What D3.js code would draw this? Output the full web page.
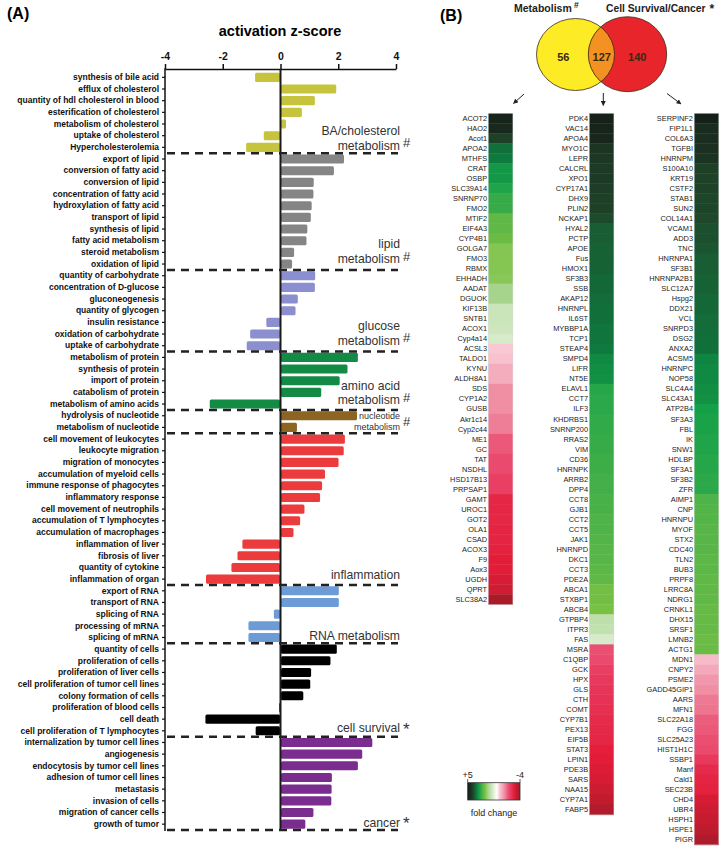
<!DOCTYPE html>
<html><head><meta charset="utf-8">
<script src="https://cdn.jsdelivr.net/npm/d3@7"></script>
<style>body{margin:0;background:#fff} svg{display:block;font-family:"Liberation Sans",Arial,sans-serif}</style>
</head><body>
<svg id="c" width="720" height="850"></svg>
<script>
// ---------------- DATA ----------------
const terms = [
 "synthesis of bile acid","efflux of cholesterol","quantity of hdl cholesterol in blood","esterification of cholesterol","metabolism of cholesterol","uptake of cholesterol","Hypercholesterolemia",
 "export of lipid","conversion of fatty acid","conversion of lipid","concentration of fatty acid","hydroxylation of fatty acid","transport of lipid","synthesis of lipid","fatty acid metabolism","steroid metabolism","oxidation of lipid",
 "quantity of carbohydrate","concentration of D-glucose","gluconeogenesis","quantity of glycogen","insulin resistance","oxidation of carbohydrate","uptake of carbohydrate",
 "metabolism of protein","synthesis of protein","import of protein","catabolism of protein","metabolism of amino acids",
 "hydrolysis of nucleotide","metabolism of nucleotide",
 "cell movement of leukocytes","leukocyte migration","migration of monocytes","accumulation of myeloid cells","immune response of phagocytes","inflammatory response","cell movement of neutrophils","accumulation of T lymphocytes","accumulation of macrophages","inflammation of liver","fibrosis of liver","quantity of cytokine","inflammation of organ",
 "export of RNA","transport of RNA","splicing of RNA","processing of mRNA","splicing of mRNA",
 "quantity of cells","proliferation of cells","proliferation of liver cells","cell proliferation of tumor cell lines","colony formation of cells","proliferation of blood cells","cell death","cell proliferation of T lymphocytes",
 "internalization by tumor cell lines","angiogenesis","endocytosis by tumor cell lines","adhesion of tumor cell lines","metastasis","invasion of cells","migration of cancer cells","growth of tumor"
];
const zScores = [
 -0.88,1.93,1.19,0.74,0.19,-0.58,-1.19,
 2.20,1.85,1.15,1.14,1.08,1.05,0.93,0.90,0.47,0.40,
 1.20,1.19,0.60,0.52,-0.49,-1.05,-1.17,
 2.68,2.32,2.05,1.41,-2.45,
 2.65,0.57,
 2.23,2.19,2.01,1.54,1.44,1.37,0.83,0.68,0.45,-1.32,-1.49,-1.70,-2.58,
 2.02,2.02,-0.23,-1.11,-1.11,
 1.95,1.73,1.06,1.03,0.79,-0.04,-2.60,-0.86,
 3.18,2.83,2.68,1.78,1.77,1.76,1.14,0.86
];
const groupSizes = [7,10,7,5,2,13,5,8,8];
const groupLabels = [["BA/cholesterol","metabolism"],["lipid","metabolism"],["glucose","metabolism"],["amino acid","metabolism"],["nucleotide","metabolism"],["inflammation"],["RNA metabolism"],["cell survival"],["cancer"]];
const groupMarks = ["#","#","#","#","#","","","*","*"];
const zTicks = [-4,-2,0,2,4];

const vennLabels = ["Metabolism","Cell Survival/Cancer"];
const vennMarks = ["#","*"];
const vennCounts = [56,127,140];

const genesMeta = ["ACOT2","HAO2","Acot1","APOA2","MTHFS","CRAT","OSBP","SLC39A14","SNRNP70","FMO2","MTIF2","EIF4A3","CYP4B1","GOLGA7","FMO3","RBMX","EHHADH","AADAT","DGUOK","KIF13B","SNTB1","ACOX1","Cyp4a14","ACSL3","TALDO1","KYNU","ALDH8A1","SDS","CYP1A2","GUSB","Akr1c14","Cyp2c44","ME1","GC","TAT","NSDHL","HSD17B13","PRPSAP1","GAMT","UROC1","GOT2","OLA1","CSAD","ACOX3","F9","Aox3","UGDH","QPRT","SLC38A2"];
const fcMeta = [4.8,4.7,4.2,3.6,3.5,3.1,3.1,2.9,2.7,2.7,2.3,2.3,2.2,1.9,1.9,1.9,1.85,1.5,1.5,0.9,0.9,0.85,0.7,-0.5,-0.6,-0.9,-0.9,-1.3,-1.3,-1.3,-1.5,-1.5,-1.9,-1.9,-2.1,-2.1,-2.3,-2.3,-2.8,-2.8,-2.8,-2.85,-2.85,-2.9,-3.0,-3.0,-3.15,-3.3,-3.8];

const genesShared = ["PDK4","VAC14","APOA4","MYO1C","LEPR","CALCRL","XPO1","CYP17A1","DHX9","PLIN2","NCKAP1","HYAL2","PCTP","APOE","Fus","HMOX1","SF3B3","SSB","AKAP12","HNRNPL","IL6ST","MYBBP1A","TCP1","STEAP4","SMPD4","LIFR","NT5E","ELAVL1","CCT7","ILF3","KHDRBS1","SNRNP200","RRAS2","VIM","CD36","HNRNPK","ARRB2","DPP4","CCT8","GJB1","CCT2","CCT5","JAK1","HNRNPD","DKC1","CCT3","PDE2A","ABCA1","STXBP1","ABCB4","GTPBP4","ITPR3","FAS","MSRA","C1QBP","GCK","HPX","GLS","CTH","COMT","CYP7B1","PEX13","EIF5B","STAT3","LPIN1","PDE3B","SARS","NAA15","CYP7A1","FABP5"];
const fcShared = [4.85,4.8,4.75,4.4,4.35,4.3,4.3,4.25,4.2,4.2,4.0,3.8,3.8,3.75,3.75,3.75,3.7,3.7,3.65,3.6,3.6,3.55,3.55,3.5,3.3,3.25,3.2,2.85,2.8,2.8,2.75,2.75,2.7,2.7,2.65,2.65,2.6,2.6,2.55,2.55,2.5,2.5,2.45,2.4,2.4,2.35,2.3,2.1,2.1,2.05,1.1,1.05,0.7,-2.0,-2.1,-2.3,-2.4,-2.5,-2.55,-2.6,-2.7,-2.75,-2.8,-2.95,-3.0,-3.1,-3.2,-3.35,-3.5,-3.7];

const genesSurv = ["SERPINF2","FIP1L1","COL6A3","TGFBI","HNRNPM","S100A10","KRT19","CSTF2","STAB1","SUN2","COL14A1","VCAM1","ADD3","TNC","HNRNPA1","SF3B1","HNRNPA2B1","SLC12A7","Hspg2","DDX21","VCL","SNRPD3","DSG2","ANXA2","ACSM5","HNRNPC","NOP58","SLC4A4","SLC43A1","ATP2B4","SF3A3","FBL","IK","SNW1","HDLBP","SF3A1","SF3B2","ZFR","AIMP1","CNP","HNRNPU","MYOF","STX2","CDC40","TLN2","BUB3","PRPF8","LRRC8A","NDRG1","CRNKL1","DHX15","SRSF1","LMNB2","ACTG1","MDN1","CNPY2","PSME2","GADD45GIP1","AARS","MFN1","SLC22A18","FGG","SLC25A23","HIST1H1C","SSBP1","Manf","Cald1","SEC23B","CHD4","UBR4","HSPH1","HSPE1","PIGR"];
const fcSurv = [4.9,4.6,4.55,4.5,4.45,4.2,4.15,4.15,4.1,4.1,4.05,3.95,3.95,3.9,3.8,3.8,3.75,3.75,3.7,3.7,3.65,3.65,3.6,3.6,3.35,3.3,3.3,3.25,3.2,3.0,2.95,2.95,2.9,2.9,2.85,2.85,2.8,2.8,2.5,2.45,2.45,2.4,2.4,2.4,2.35,2.35,2.3,2.3,2.3,2.25,2.25,2.25,2.2,2.2,-0.7,-0.95,-1.2,-1.3,-1.55,-1.6,-1.85,-1.9,-2.0,-2.1,-2.4,-2.7,-2.85,-2.9,-3.2,-3.35,-3.4,-3.55,-3.75];

const fcLegendTicks = ["+5","-4"];

// ---------------- STYLE ----------------
const groupColors = ["#c6c43c","#858585","#8b8ecf","#138b45","#8e6423","#ec3b3c","#6d9bd6","#000000","#7b2d8f"];
const fcStops = [5,4.5,4,3.5,3,2.5,2,1.5,1,0,-0.5,-1,-1.5,-2,-2.5,-3,-3.5,-4];
const fcColors = ["#141c16","#1b3020","#1e4a2c","#0e7a3e","#14a049","#4eb348","#7cc242","#a6d48c","#c4e2b2","#ffffff","#f8c8d3","#f3a6b8","#ee7e97","#ea4f72","#e83458","#e31c38","#c01c2e","#9c1a26"];

const svg = d3.select("#c");

// ---------------- PANEL A ----------------
const x = d3.scaleLinear().domain([-4,4]).range([165,396]);
const y = d3.scaleBand().domain(terms).range([71.5,830]).paddingInner(0.22).paddingOuter(0.11);
const step = y.step();
const y0 = 71.5;

svg.append("text").attr("x",7).attr("y",19).attr("font-size",16).attr("font-weight","bold").text("(A)");
svg.append("text").attr("x",280).attr("y",35.5).attr("text-anchor","middle").attr("font-size",14.5).attr("font-weight","bold").text("activation z-score");

// top axis
const gx = svg.append("g").attr("transform","translate(0,69)")
  .call(d3.axisTop(x).tickValues(zTicks).tickSize(5).tickSizeOuter(0).tickFormat(d=>String(d)));
gx.select(".domain").attr("stroke","#111").attr("stroke-width",1.5);
gx.selectAll(".tick line").attr("stroke","#111").attr("stroke-width",1.5);
gx.selectAll(".tick text").attr("font-size",10.5).attr("font-weight","bold").attr("fill","#111").attr("font-family","Liberation Sans, Arial, sans-serif").attr("dy","-0.1em");

// left axis
const gy = svg.append("g").attr("transform","translate(165,0)")
  .call(d3.axisLeft(y).tickSize(3).tickPadding(3));
gy.select(".domain").remove();
gy.selectAll(".tick line").attr("stroke","#111").attr("stroke-width",1.2);
gy.selectAll(".tick text").attr("font-size",8.5).attr("font-weight","bold").attr("fill","#111").attr("font-family","Liberation Sans, Arial, sans-serif");
svg.append("line").attr("x1",165).attr("x2",165).attr("y1",68.3).attr("y2",831).attr("stroke","#111").attr("stroke-width",1.5);

// group index per term
const termGroup = [];
groupSizes.forEach((n,g)=>{for(let i=0;i<n;i++) termGroup.push(g);});

// bars
svg.append("g").selectAll("rect").data(terms).join("rect")
  .attr("x",(d,i)=>zScores[i]>=0? x(0)+0.5 : x(zScores[i]))
  .attr("width",(d,i)=>Math.max(0.8,Math.abs(x(zScores[i])-x(0))-0.5))
  .attr("y",d=>y(d)).attr("height",y.bandwidth())
  .attr("rx",1.5)
  .attr("fill",(d,i)=>groupColors[termGroup[i]]);

// zero line
svg.append("line").attr("x1",x(0)).attr("x2",x(0)).attr("y1",69).attr("y2",831).attr("stroke","#1a1a1a").attr("stroke-width",2);

// dashed separators & group labels
const labelOffsets = [3.2,6.7,7,5.7,3,5.8,3.2,4.2,3.5];
let cum = 0;
groupSizes.forEach((n,g)=>{
  cum += n;
  const by = y0 + cum*step;
  svg.append("line").attr("x1",167).attr("x2",398).attr("y1",by).attr("y2",by)
    .attr("stroke","#222").attr("stroke-width",2.5).attr("stroke-dasharray","8,6");
  const lines = groupLabels[g];
  const small = g===4;
  const fs = small?9:12.2;
  const lh = small?11:14.7;
  const baseLast = by - labelOffsets[g];
  lines.forEach((t,k)=>{
    svg.append("text").attr("x",400).attr("y",baseLast-(lines.length-1-k)*lh)
      .attr("text-anchor","end").attr("font-size",fs).attr("fill","#333").text(t);
  });
  if(groupMarks[g]){
    const mk = groupMarks[g];
    const my = small ? baseLast-4 : baseLast-2.5;
    svg.append("text").attr("x",403).attr("y",mk==="*"? my+5 : my)
      .attr("font-size",mk==="*"?17:13).attr("fill","#333").text(mk);
  }
});

// ---------------- PANEL B ----------------
svg.append("text").attr("x",440).attr("y",21).attr("font-size",16).attr("font-weight","bold").text("(B)");

const defs = svg.append("defs");
const yel = {cx:575.5, cy:54.5, rx:39, ry:36};
const red = {cx:627.5, cy:54.2, rx:39.2, ry:37.5};
const ell = (sel,e)=>sel.append("ellipse").attr("cx",e.cx).attr("cy",e.cy).attr("rx",e.rx).attr("ry",e.ry);
ell(defs.append("clipPath").attr("id","clipY"), yel);
ell(svg, yel).attr("fill","#fdeb26");
ell(svg, red).attr("fill","#e8252b");
ell(svg, red).attr("fill","#f39222").attr("clip-path","url(#clipY)");
ell(svg, yel).attr("fill","none").attr("stroke","#3a2a10").attr("stroke-width",0.8);
ell(svg, red).attr("fill","none").attr("stroke","#3a2a10").attr("stroke-width",0.8);

const countX = [563.3,601.7,637.3];
vennCounts.forEach((c,i)=>{
  svg.append("text").attr("x",countX[i]).attr("y",61).attr("text-anchor","middle")
    .attr("font-size",11).attr("font-weight","bold").attr("fill","#3a2810").text(c);
});
svg.append("text").attr("x",514).attr("y",12).attr("font-size",10.5).attr("font-weight","bold").attr("fill","#222").text(vennLabels[0]);
svg.append("text").attr("x",574).attr("y",8).attr("font-size",8.5).attr("font-weight","bold").attr("fill","#222").text(vennMarks[0]);
svg.append("text").attr("x",606).attr("y",12).attr("font-size",10.3).attr("font-weight","bold").attr("fill","#222").text(vennLabels[1]);
svg.append("text").attr("x",709.5).attr("y",13).attr("font-size",12).attr("font-weight","bold").attr("fill","#222").text(vennMarks[1]);

// arrows
defs.append("marker").attr("id","ah").attr("viewBox","0 0 10 10").attr("refX",9).attr("refY",5)
  .attr("markerWidth",5).attr("markerHeight",5).attr("orient","auto")
  .append("path").attr("d","M0,0 L10,5 L0,10 Z").attr("fill","#222");
[[524,94,513.5,103.5],[603.3,93,603.3,105.5],[667,93.5,681,104]].forEach(a=>{
  svg.append("line").attr("x1",a[0]).attr("y1",a[1]).attr("x2",a[2]).attr("y2",a[3])
    .attr("stroke","#222").attr("stroke-width",1).attr("marker-end","url(#ah)");
});

// heatmaps
const color = d3.scaleLinear().domain(fcStops).range(fcColors).interpolate(d3.interpolateRgb).clamp(true);
const cols = [
  {genes:genesMeta, fc:fcMeta, x0:488.3},
  {genes:genesShared, fc:fcShared, x0:589.3},
  {genes:genesSurv, fc:fcSurv, x0:694.2}
];
const rowH = 10.02, hmTop = 113.3, cw = 24.6;
cols.forEach(col=>{
  const yy = d3.scaleBand().domain(col.genes).range([hmTop, hmTop + col.genes.length*rowH]);
  const g = svg.append("g");
  g.selectAll("rect").data(col.genes).join("rect")
    .attr("x",col.x0).attr("width",cw).attr("y",d=>yy(d)).attr("height",yy.bandwidth()+0.4)
    .attr("fill",(d,i)=>color(col.fc[i]));
  g.append("rect").attr("x",col.x0).attr("width",cw).attr("y",hmTop).attr("height",col.genes.length*rowH)
    .attr("fill","none").attr("stroke","#d0d0d0").attr("stroke-width",0.4);
  g.selectAll("text").data(col.genes).join("text")
    .attr("x",col.x0-1.2).attr("y",d=>yy(d)+yy.bandwidth()/2).attr("dy","0.35em")
    .attr("text-anchor","end").attr("font-size",7.4).attr("fill","#222").text(d=>d);
});

// legend
const lg = defs.append("linearGradient").attr("id","fcg").attr("x1","0%").attr("x2","100%");
const lx = d3.scaleLinear().domain([5,-4]).range([0,100]);
fcStops.forEach((s,i)=>lg.append("stop").attr("offset",lx(s)+"%").attr("stop-color",fcColors[i]));
svg.append("rect").attr("x",467.7).attr("y",782.7).attr("width",52.3).attr("height",17.3)
  .attr("fill","url(#fcg)").attr("stroke","#333").attr("stroke-width",0.8);
[[467.7,fcLegendTicks[0]],[520,fcLegendTicks[1]]].forEach(t=>{
  svg.append("line").attr("x1",t[0]).attr("x2",t[0]).attr("y1",779).attr("y2",782.7).attr("stroke","#333").attr("stroke-width",0.8);
  svg.append("text").attr("x",t[0]).attr("y",777.5).attr("text-anchor","middle").attr("font-size",9).attr("fill","#222").text(t[1]);
});
svg.append("text").attr("x",494).attr("y",816).attr("text-anchor","middle").attr("font-size",9).attr("fill","#222").text("fold change");
</script>
</body></html>
